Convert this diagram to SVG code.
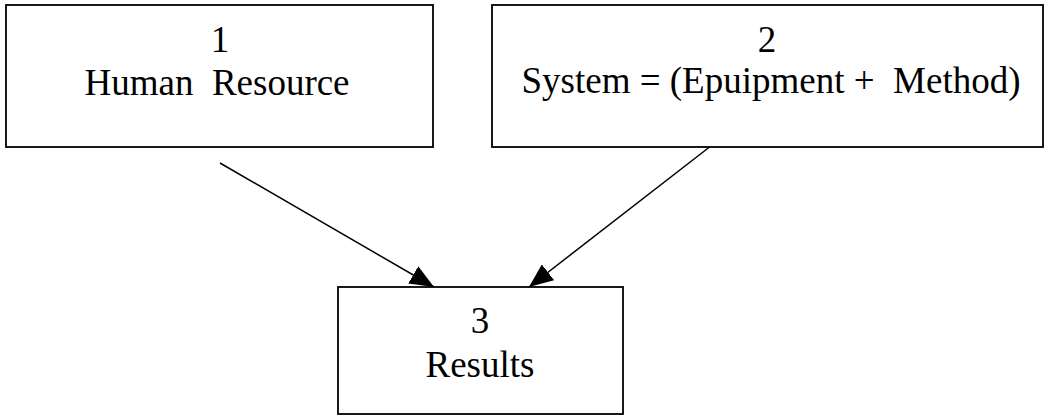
<svg xmlns="http://www.w3.org/2000/svg" width="1047" height="415" viewBox="0 0 1047 415">
<style>
.box{fill:#fff;stroke:#000;stroke-width:1.8}
.t{font-family:"Liberation Serif","Times New Roman",serif;font-size:37px;fill:#000;text-anchor:middle;white-space:pre}
.c{stroke:#000;stroke-width:1.5;fill:none}
</style>
<defs>
<marker id="ah" viewBox="0 0 24 20" refX="24" refY="10" markerWidth="24" markerHeight="20" markerUnits="userSpaceOnUse" orient="auto">
<path d="M0,0 L24,10 L0,20 Z" fill="#000"/>
</marker>
</defs>
<rect width="1047" height="415" fill="#fff"/>
<g id="connectors">
<line class="c" x1="220" y1="163" x2="434" y2="287" marker-end="url(#ah)"/>
<line class="c" x1="716" y1="142" x2="529" y2="287" marker-end="url(#ah)"/>
</g>
<g id="node1">
<rect class="box" x="6" y="5" width="427" height="142"/>
<text class="t" x="220" y="52">1</text>
<text class="t" x="217" y="95" xml:space="preserve">Human  Resource</text>
</g>
<g id="node2">
<rect class="box" x="492" y="5" width="551" height="142"/>
<text class="t" x="767" y="52">2</text>
<text class="t" x="771" y="93" xml:space="preserve">System = (Epuipment +  Method)</text>
</g>
<g id="node3">
<rect class="box" x="338" y="287" width="285" height="127"/>
<text class="t" x="480" y="333">3</text>
<text class="t" x="480" y="377">Results</text>
</g>
</svg>
